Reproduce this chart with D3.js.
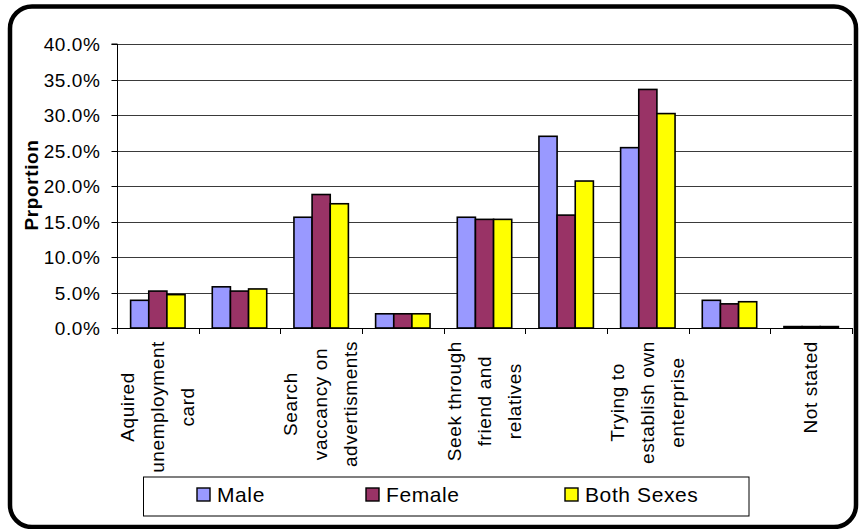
<!DOCTYPE html>
<html>
<head>
<meta charset="utf-8">
<script src="https://cdn.jsdelivr.net/npm/d3@7"></script>
<style>
  html, body { margin: 0; padding: 0; background: #fff; }
  svg { display: block; font-family: "Liberation Sans", Arial, sans-serif; }
</style>
</head>
<body>
<svg id="chart" width="859" height="529"></svg>
<script>
// Job-search methods, share of each sex (percent)
const categories = [
  "Aquired\nunemployment\ncard",
  "",
  "Search\nvaccancy on\nadvertisments",
  "",
  "Seek through\nfriend and\nrelatives",
  "",
  "Trying to\nestablish own\nenterprise",
  "",
  "Not stated"
];
const seriesNames = ["Male", "Female", "Both Sexes"];
const seriesColors = ["#9999FF", "#993366", "#FFFF00"];
const male      = [3.9, 5.8, 15.6, 2.0, 15.6, 27.0, 25.4, 3.9, 0.2];
const female    = [5.2, 5.2, 18.8, 2.0, 15.3, 15.9, 33.6, 3.4, 0.2];
const bothSexes = [4.7, 5.5, 17.5, 2.0, 15.3, 20.7, 30.2, 3.7, 0.2];
const yTicks = [0, 5, 10, 15, 20, 25, 30, 35, 40];
const yTitle = "Prportion";

const series = [male, female, bothSexes];
const svg = d3.select("#chart");

const labelFont = "19px";
const labelSpacing = "0.6px";

// outer rounded frame
svg.append("rect")
  .attr("x", 10).attr("y", 6.5)
  .attr("width", 846).attr("height", 520.5)
  .attr("rx", 22).attr("ry", 22)
  .attr("fill", "#fff").attr("stroke", "#000").attr("stroke-width", 4.5);

const plot = { left: 117, right: 852, top: 44, bottom: 328 };

const x = d3.scaleBand()
  .domain(d3.range(categories.length))
  .range([plot.left, plot.right])
  .paddingInner(0).paddingOuter(0);

// Excel-style gap: gap width 150% of a bar
const barW = x.step() / 4.5;
const xs = d3.scaleBand()
  .domain(d3.range(series.length))
  .range([0.75 * barW, 0.75 * barW + 3 * barW]);

const y = d3.scaleLinear().domain([0, 40]).range([plot.bottom, plot.top]);

// gridlines
svg.append("g")
  .selectAll("line")
  .data(yTicks.filter(t => t > 0))
  .join("line")
  .attr("x1", plot.left).attr("x2", plot.right)
  .attr("y1", d => Math.round(y(d)) + 0.5).attr("y2", d => Math.round(y(d)) + 0.5)
  .attr("stroke", "#3a3a3a").attr("stroke-width", 1);

// bars
series.forEach((vals, si) => {
  svg.append("g")
    .selectAll("rect")
    .data(vals)
    .join("rect")
    .attr("x", (d, i) => x(i) + xs(si))
    .attr("y", d => y(d))
    .attr("width", xs.bandwidth())
    .attr("height", d => y(0) - y(d))
    .attr("fill", seriesColors[si])
    .attr("stroke", "#000")
    .attr("stroke-width", 1.6);
});

// y axis
const yAxis = d3.axisLeft(y)
  .tickValues(yTicks)
  .tickSize(6)
  .tickPadding(11)
  .tickFormat(d => d3.format(".1f")(d) + "%");
const gy = svg.append("g")
  .attr("transform", `translate(${plot.left + 0.5},0)`)
  .call(yAxis);
gy.select(".domain").attr("stroke", "#000").attr("d", `M-6,${plot.top}H0V${plot.bottom + 6}`);
gy.selectAll(".tick line").attr("stroke", "#000");
gy.selectAll(".tick").attr("transform", d => `translate(0,${Math.round(y(d)) + 0.5})`);
gy.selectAll(".tick text")
  .attr("fill", "#000")
  .style("font-size", labelFont)
  .style("letter-spacing", labelSpacing)
  .attr("dy", "0.36em");

// x axis line and category ticks
const gx = svg.append("g");
gx.append("line")
  .attr("x1", plot.left - 5).attr("x2", plot.right + 0.5)
  .attr("y1", plot.bottom + 0.5).attr("y2", plot.bottom + 0.5)
  .attr("stroke", "#000");
gx.selectAll(".xt")
  .data(d3.range(categories.length + 1))
  .join("line")
  .attr("class", "xt")
  .attr("x1", d => Math.round(plot.left + d * x.step()) + 0.5)
  .attr("x2", d => Math.round(plot.left + d * x.step()) + 0.5)
  .attr("y1", plot.bottom).attr("y2", plot.bottom + 6)
  .attr("stroke", "#000");

// rotated category labels (multi-line, centred lines, top-aligned block)
const linePitch = 30;
const labelTop = 341;
categories.forEach((label, i) => {
  if (!label) return;
  const lines = label.split("\n");
  const cx = x(i) + x.bandwidth() / 2;
  const g = svg.append("g");
  const texts = lines.map(ln =>
    g.append("text")
      .text(ln)
      .style("font-size", labelFont)
      .style("letter-spacing", labelSpacing)
      .attr("fill", "#000")
      .attr("text-anchor", "middle")
  );
  const maxLen = d3.max(texts, t => t.node().getComputedTextLength());
  texts.forEach((t, li) => {
    const off = (li - (lines.length - 1) / 2) * linePitch + 6;
    t.attr("transform", `translate(${cx + off},${labelTop + maxLen / 2}) rotate(-90)`);
  });
});

// y axis title
svg.append("text")
  .text(yTitle)
  .attr("transform", "translate(38,185) rotate(-90)")
  .attr("text-anchor", "middle")
  .style("font-size", labelFont)
  .style("font-weight", "bold")
  .style("letter-spacing", labelSpacing)
  .attr("fill", "#000");

// legend
const legend = svg.append("g");
legend.append("rect")
  .attr("x", 143.5).attr("y", 477)
  .attr("width", 605.5).attr("height", 39)
  .attr("fill", "#fff").attr("stroke", "#000").attr("stroke-width", 1);
const legendX = [197, 366, 565];
seriesNames.forEach((name, si) => {
  legend.append("rect")
    .attr("x", legendX[si]).attr("y", 488)
    .attr("width", 13).attr("height", 13)
    .attr("fill", seriesColors[si]).attr("stroke", "#000").attr("stroke-width", 1.4);
  legend.append("text")
    .text(name)
    .attr("x", legendX[si] + 20).attr("y", 502)
    .style("font-size", "21px")
    .style("letter-spacing", "0.6px")
    .attr("fill", "#000");
});
</script>
</body>
</html>
